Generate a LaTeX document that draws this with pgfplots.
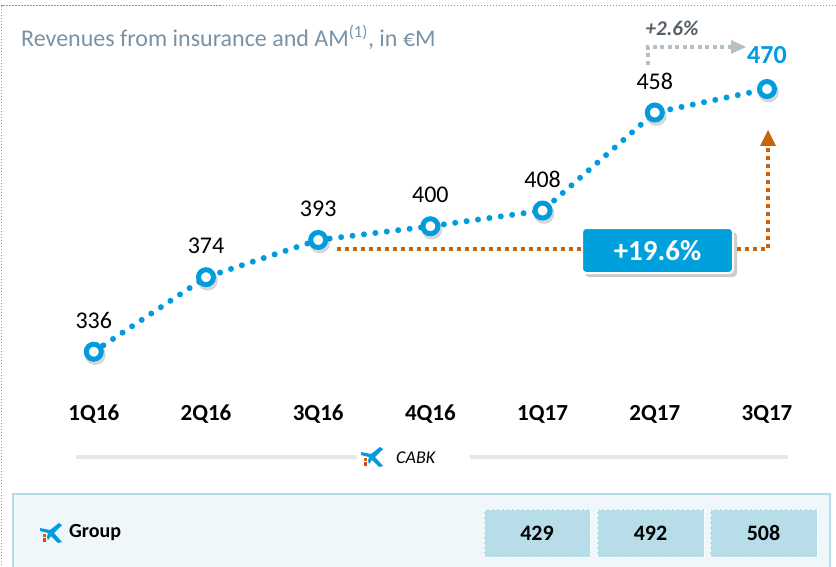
\documentclass[border=0pt]{standalone}
\usepackage{fontspec}
\setmainfont{Carlito}
\usepackage{pgfplots}
\usepackage{pgfplotstable}
\pgfplotsset{compat=1.18}

\definecolor{cbblue}{RGB}{0,156,222}
\definecolor{boxblue}{RGB}{0,160,220}
\definecolor{cborange}{RGB}{200,100,10}
\definecolor{cbred}{RGB}{225,60,40}
\definecolor{titlegray}{RGB}{122,146,166}
\definecolor{framegray}{RGB}{150,150,150}
\definecolor{sepgray}{RGB}{226,231,235}
\definecolor{boxfill}{RGB}{240,247,250}
\definecolor{boxborder}{RGB}{180,220,232}
\definecolor{cellfill}{RGB}{183,222,232}
\definecolor{arrowgray}{RGB}{180,192,198}
\definecolor{labelgray}{RGB}{85,96,106}

% quarterly revenues, EUR M
\pgfplotstableread{
x y
0 336
1 374
2 393
3 400
4 408
5 458
6 470
}\rev

% small CaixaBank star, pixel units
\newcommand\cblogo[1]{%
  \begin{scope}[shift={#1}]
    \fill[cbblue] (-11,-5) -- (-1,-3) -- (8,-10) -- (11,-8) -- (3,0) -- (11,9) -- (7,10)
      -- (0,3) -- (-3,7) -- (-4,4) -- (-3,0) -- (-11,-2) -- cycle;
    \fill[cborange] (-8,0.5) rectangle (-5,3.5);
    \fill[cbred] (-8,4.5) rectangle (-5,8.5);
  \end{scope}}

\begin{document}
\begin{tikzpicture}
\begin{axis}[
  scale only axis, width=836pt, height=566pt,
  xmin=-0.836, xmax=6.615, ymin=226.7, ymax=515.4,
  axis line style={draw=none}, tick style={draw=none},
  ytick=\empty, xtick={0,...,6},
  xticklabels={1Q16,2Q16,3Q16,4Q16,1Q17,2Q17,3Q17},
  xticklabel style={font=\fontsize{23}{26}\selectfont\bfseries, anchor=center, yshift=152pt},
  clip=false,
]
\addplot[cbblue, line width=6pt, line cap=round, dash pattern=on 0pt off 11.5pt]
  table[x=x,y=y]{\rev};
% soft shadow under the rings
\addplot[only marks, mark=*, mark size=10pt, draw=none, fill=black, opacity=0.15,
  mark options={xshift=1.5pt, yshift=-3pt}] table[x=x,y=y]{\rev};
\addplot[only marks, mark=*, mark size=7.5pt,
  mark options={draw=cbblue, fill=white, line width=5pt},
  point meta=explicit symbolic, nodes near coords,
  every node near coord/.append style={font=\fontsize{24}{28}\selectfont, text=black, anchor=center, yshift=31pt},
  skip coords between index={6}{7}] table[x=x,y=y,meta=y]{\rev};
\addplot[only marks, mark=*, mark size=7.5pt,
  mark options={draw=cbblue, fill=white, line width=5pt},
  point meta=explicit symbolic, nodes near coords,
  every node near coord/.append style={font=\fontsize{26}{30}\selectfont\bfseries, text=cbblue, anchor=center, yshift=34pt},
  skip coords between index={0}{6}] table[x=x,y=y,meta=y]{\rev};
\coordinate (TL) at (rel axis cs:0,1);
\end{axis}

\begin{scope}[shift={(TL)}, x=1pt, y=-1pt]
  % outer dotted frame
  \draw[framegray, line width=1pt, dash pattern=on 1.5pt off 1.5pt] (845,6) -- (1.5,6) -- (1.5,575);
  \node[anchor=base west, inner sep=0pt, text=titlegray, font=\fontsize{24}{28}\selectfont] at (21,47)
    {Revenues from insurance and AM\textsuperscript{(1)}, in €M};

  % +2.6% arrow
  \draw[arrowgray, line width=4pt, dash pattern=on 4pt off 3.5pt] (648,65) -- (648,47) -- (731,47);
  \fill[arrowgray] (746,47) -- (731,40) -- (731,54) -- cycle;
  \node[text=labelgray, font=\fontsize{21}{24}\selectfont\bfseries\itshape] at (672,28) {+2.6\%};

  % +19.6% arrow and box
  \draw[cborange, line width=4pt, dash pattern=on 4pt off 4pt] (337,249) -- (768,249) -- (768,147);
  \fill[cborange] (768,130) -- (776,146) -- (760,146) -- cycle;
  \fill[black, opacity=0.2, rounded corners=4pt] (585,232) rectangle (737,277);
  \filldraw[fill=boxblue, draw=white, line width=2pt, rounded corners=4pt] (582,228) rectangle (733,273);
  \node[text=white, font=\fontsize{29}{32}\selectfont\bfseries] at (657.5,251) {+19.6\%};

  % CABK separator
  \draw[sepgray, line width=4pt] (76,457) -- (357,457);
  \draw[sepgray, line width=4pt] (470,457) -- (788,457);
  \cblogo{(372,457)}
  \node[anchor=west, inner sep=0pt, font=\fontsize{18}{21}\selectfont\itshape] at (396,458) {CABK};

  % Group row
  \filldraw[fill=boxfill, draw=boxborder, line width=1.5pt] (13,494) rectangle (830,580);
  \cblogo{(51,533)}
  \node[anchor=west, inner sep=0pt, font=\fontsize{20}{24}\selectfont\bfseries] at (69,533) {Group};
  \foreach \a/\b/\v in {484/590/429, 597/704/492, 710/817/508} {
    \filldraw[fill=cellfill, draw=white, line width=1pt, dash pattern=on 3pt off 2pt] (\a,509) rectangle (\b,557);
    \node[font=\fontsize{22}{26}\selectfont\bfseries] at ({(\a+\b)/2},533) {\v};
  }

  \pgfresetboundingbox
  \path[use as bounding box] (0,0) rectangle (836,566);
\end{scope}
\end{tikzpicture}
\end{document}
